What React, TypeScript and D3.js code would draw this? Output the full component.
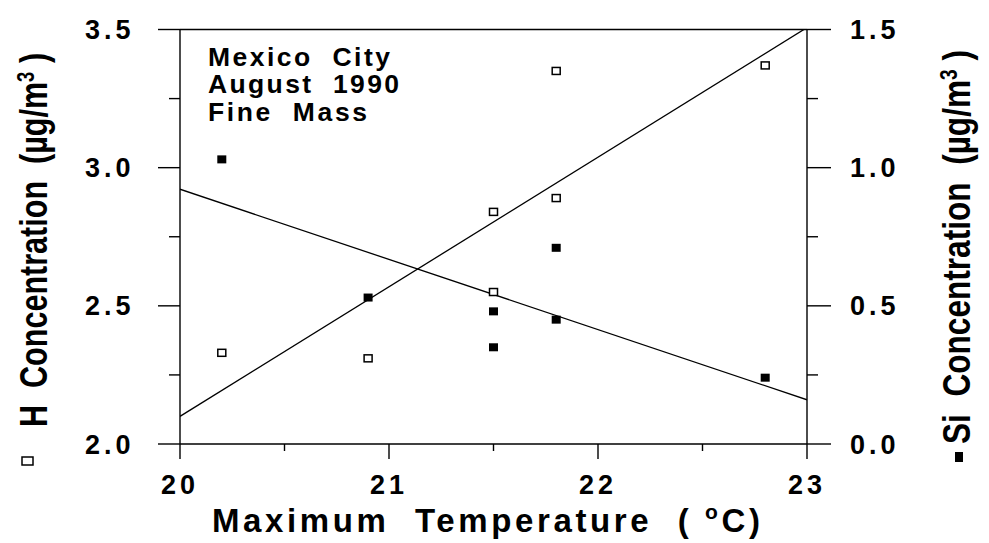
import React, { useLayoutEffect, useRef, useState } from "react";
import * as d3 from "d3";

// ---- data ----
const tempH = [20.2, 20.9, 21.5, 21.5, 21.8, 21.8, 22.8];
const hConc = [2.33, 2.31, 2.55, 2.84, 2.89, 3.35, 3.37];
const tempSi = [20.2, 20.9, 21.5, 21.5, 21.8, 21.8, 22.8];
const siConc = [1.03, 0.53, 0.48, 0.35, 0.45, 0.71, 0.24];
// fitted lines (end points at 20 and 23 °C)
const fitX = [20, 23];
const hFit = [2.1, 3.507];
const siFit = [0.922, 0.16];

const xMajor = [20, 21, 22, 23];
const xMinor = [20.5, 21.5, 22.5];
const hMajor = [2.0, 2.5, 3.0, 3.5];
const hMinor = [2.25, 2.75, 3.25];
const siMajor = [0.0, 0.5, 1.0, 1.5];
const siMinor = [0.25, 0.75, 1.25];
const noteLines = ["Mexico  City", "August  1990", "Fine  Mass"];

const W = 989;
const H = 543;
const L = 180, R = 807, T = 29.5, B = 444;
const FONT = "'Liberation Sans', Arial, Helvetica, sans-serif";

function RotTitle({ x, y, len, label }: { x: number; y: number; len: number; label: string }) {
  const ref = useRef<SVGTextElement>(null);
  const [s, setS] = useState(0.78);
  useLayoutEffect(() => {
    if (ref.current) {
      const w = ref.current.getComputedTextLength();
      if (w > 0) setS(len / w);
    }
  }, [len]);
  return (
    <g transform={`translate(${x},${y}) rotate(-90) scale(${s},1)`}>
      <text ref={ref} fontWeight="bold" fontSize={38} style={{ whiteSpace: "pre" }}>
        {label + "  Concentration  (µg/m"}
        <tspan fontSize={23} dy={-13}>3</tspan>
        <tspan dy={13}>{" )"}</tspan>
      </text>
    </g>
  );
}

export default function App() {
  const x = d3.scaleLinear().domain([20, 23]).range([L, R]);
  const yH = d3.scaleLinear().domain([2, 3.5]).range([B, T]);
  const ySi = d3.scaleLinear().domain([0, 1.5]).range([B, T]);

  const hLine = d3.line<number>().x((d, i) => x(fitX[i])).y((d) => yH(d))(hFit) || "";
  const siLine = d3.line<number>().x((d, i) => x(fitX[i])).y((d) => ySi(d))(siFit) || "";

  const sw = 1.4;
  const noteW = [182, 191, 159];

  return (
    <svg
      width={W}
      height={H}
      viewBox={`0 0 ${W} ${H}`}
      style={{ position: "absolute", left: 0, top: 0, background: "#fff" }}
      fontFamily={FONT}
    >
      <defs>
        <clipPath id="plot">
          <rect x={L} y={T} width={R - L} height={B - T} />
        </clipPath>
      </defs>
      <rect x={0} y={0} width={W} height={H} fill="#fff" />

      {/* frame */}
      <g stroke="#000" strokeWidth={sw} fill="none">
        <line x1={L} y1={T} x2={R} y2={T} />
        <line x1={L} y1={B} x2={R} y2={B} />
        <line x1={L} y1={T} x2={L} y2={B} />
        <line x1={R} y1={T} x2={R} y2={B} />
        {hMajor.map((v) => (
          <line key={"hM" + v} x1={L - 22} y1={yH(v)} x2={L} y2={yH(v)} />
        ))}
        {hMinor.map((v) => (
          <line key={"hm" + v} x1={L - 11} y1={yH(v)} x2={L} y2={yH(v)} />
        ))}
        {siMajor.map((v) => (
          <line key={"sM" + v} x1={R} y1={ySi(v)} x2={R + 24} y2={ySi(v)} />
        ))}
        {siMinor.map((v) => (
          <line key={"sm" + v} x1={R} y1={ySi(v)} x2={R + 11} y2={ySi(v)} />
        ))}
        {xMajor.map((v) => (
          <line key={"xM" + v} x1={x(v)} y1={B} x2={x(v)} y2={B + 15} />
        ))}
        {xMinor.map((v) => (
          <line key={"xm" + v} x1={x(v)} y1={B} x2={x(v)} y2={B + 7} />
        ))}
      </g>

      {/* fit lines */}
      <g clipPath="url(#plot)" stroke="#000" strokeWidth={1.3} fill="none">
        <path d={hLine} />
        <path d={siLine} />
      </g>

      {/* H points: open squares */}
      {tempH.map((t, i) => (
        <rect
          key={"h" + i}
          x={x(t) - 4}
          y={yH(hConc[i]) - 3.5}
          width={8}
          height={7}
          fill="#fff"
          stroke="#000"
          strokeWidth={1.5}
        />
      ))}
      {/* Si points: filled squares */}
      {tempSi.map((t, i) => (
        <rect
          key={"s" + i}
          x={x(t) - 4.5}
          y={ySi(siConc[i]) - 4}
          width={9}
          height={8}
          fill="#000"
        />
      ))}

      {/* tick labels */}
      <g fontWeight="bold" fontSize={27} fill="#000" letterSpacing={4}>
        {hMajor.map((v) => (
          <text key={"hl" + v} x={85} y={yH(v) + 9.5}>
            {d3.format(".1f")(v)}
          </text>
        ))}
        {siMajor.map((v) => (
          <text key={"sl" + v} x={850} y={ySi(v) + 9.5}>
            {d3.format(".1f")(v)}
          </text>
        ))}
        {xMajor.map((v) => (
          <text key={"xl" + v} x={x(v)} y={494} textAnchor="middle">
            {v}
          </text>
        ))}
      </g>

      {/* note */}
      <g fontWeight="bold" fontSize={26.5} fill="#000">
        {noteLines.map((s, i) => (
          <text
            key={s}
            x={208}
            y={66 + i * 27.3}
            textLength={noteW[i]}
            lengthAdjust="spacing"
            style={{ whiteSpace: "pre" }}
          >
            {s}
          </text>
        ))}
      </g>

      {/* x title */}
      <text
        x={212}
        y={532}
        fontWeight="bold"
        fontSize={33}
        textLength={548}
        lengthAdjust="spacing"
        style={{ whiteSpace: "pre" }}
      >
        {"Maximum  Temperature  ( "}
        <tspan fontSize={21} dy={-13}>o</tspan>
        <tspan dy={13}>C)</tspan>
      </text>

      {/* left y title */}
      <rect x={22} y={457} width={11} height={8} fill="#fff" stroke="#000" strokeWidth={1.5} />
      <RotTitle x={47} y={427} len={374} label="H" />

      {/* right y title */}
      <rect x={955} y={452} width={8} height={10} fill="#000" />
      <RotTitle x={970} y={444} len={394} label="Si" />
    </svg>
  );
}
